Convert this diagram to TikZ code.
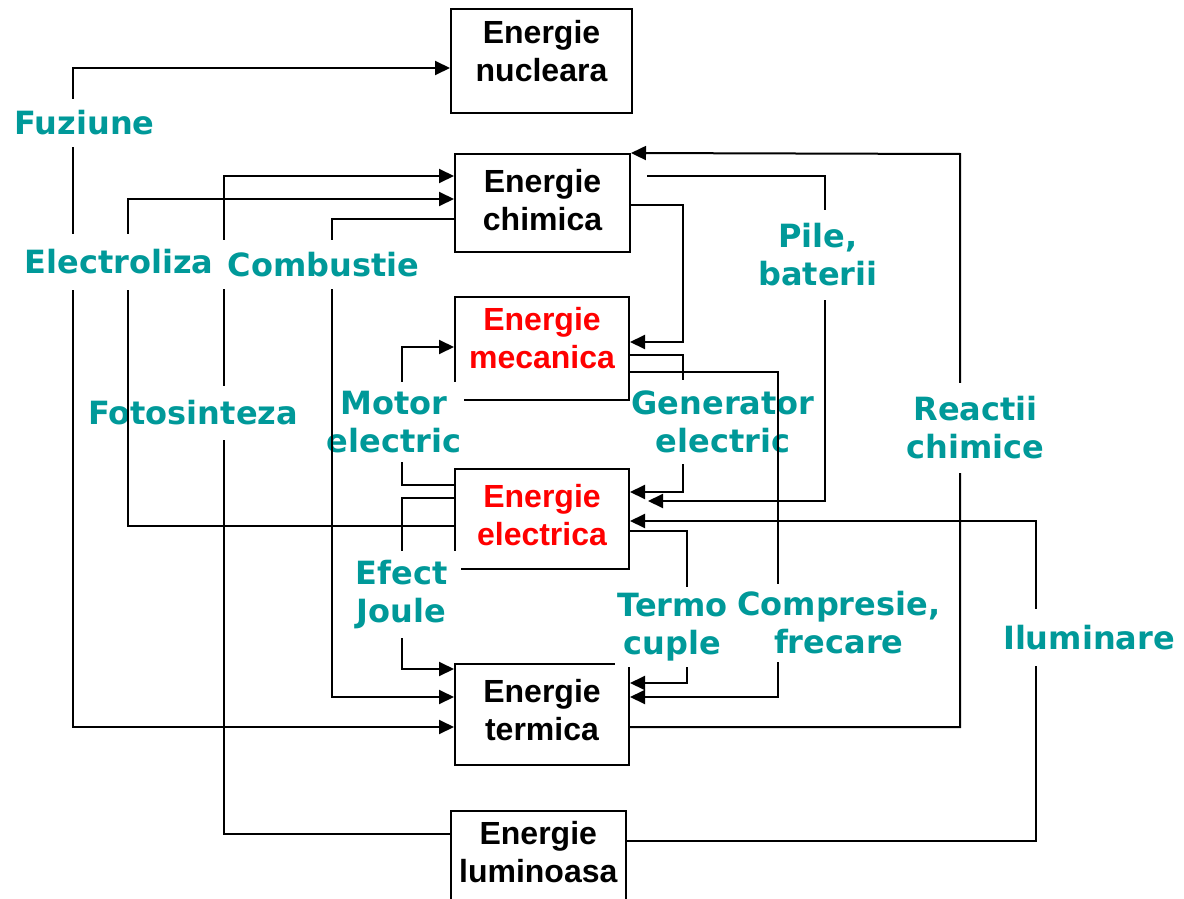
\documentclass[tikz,border=0pt]{standalone}
\usepackage{fontspec}
\usetikzlibrary{positioning, arrows.meta}
\newfontfamily\boxfont{Liberation Sans}
\newfontfamily\procfont{DejaVu Sans}
\definecolor{procteal}{HTML}{009999}
\definecolor{enred}{HTML}{FF0000}

\begin{document}
\begin{tikzpicture}[x=0.5pt, y=-0.5pt, >={Triangle[length=7.5pt, width=7pt]},
    ebox/.style={draw, line width=1pt, inner sep=0pt},
    etext/.style={font=\boxfont\bfseries\fontsize{16}{19}\selectfont, align=center, inner sep=0pt},
    proc/.style={font=\procfont\bfseries\fontsize{16}{19}\selectfont, text=procteal, align=center, fill=white, inner xsep=1pt},
    conn/.style={draw, line width=1pt}]
  \useasboundingbox (0,0) rectangle (1184,899);
  \clip (0,0) rectangle (1184,899);

  % boxes
  \node[ebox, minimum width=90.5pt, minimum height=52pt] (nuc) at (541.5,61.5) {};
  \node[ebox, minimum width=87.5pt, minimum height=49pt] (chim) at (542.5,203) {};
  \node[ebox, minimum width=87pt, minimum height=51.25pt] (mec) at (542,348.25) {};
  \node[ebox, minimum width=87pt, minimum height=50pt] (elec) at (542,519) {};
  \node[ebox, minimum width=87pt, minimum height=50.5pt] (term) at (542,714.5) {};
  \node[ebox, minimum width=87.25pt, minimum height=50.5pt] (lum) at (538.25,861) {};
  \node[etext, below=5.6pt of nuc.north] (nuc-t) {Energie\\nucleara};
  \node[etext, below=8.1pt of chim.north] (chim-t) {Energie\\chimica};
  \node[etext, text=enred, below=5.5pt of mec.north] (mec-t) {Energie\\mecanica};
  \node[etext, text=enred, below=8pt of elec.north] (elec-t) {Energie\\electrica};
  \node[etext, below=8pt of term.north] (term-t) {Energie\\termica};
  \node[etext, below=5.6pt of lum.north] (lum-t) {Energie\\luminoasa};

  \coordinate (pile-s) at (647,176);
  \coordinate (pile-e) at (648,501);

  % connectors under all labels
  \draw[conn, <->] (nuc.west |- 0,68) -| (73,727) -- (term.west |- 0,727);
  \draw[conn, ->] (lum.west |- 0,834) -| (224,176) -- (chim.west |- 0,176);
  \draw[conn, ->] (elec.west |- 0,485) -| (402,347) -- (mec.west |- 0,347);
  \draw[conn, ->] (elec.west |- 0,498) -| (402,669) -- (term.west |- 0,669);
  \draw[conn, ->] (chim.east |- 0,205) -| (683,342) -- (mec.east |- 0,342);
  \draw[conn, ->] (mec.east |- 0,355) -| (683,492) -- (elec.east |- 0,492);
  \draw[conn, ->] (pile-s) -| (825,501) -- (pile-e);
  \draw[conn, ->] (term.east |- 0,727) -| (960,154) -- (chim.north east);
  \draw[conn, ->] (elec.east |- 0,531) -| (687,683) -- (term.east |- 0,683);
  \draw[conn, ->] (lum.east |- 0,841) -| (1036,521) -- (elec.east |- 0,521);

  \node[proc, inner ysep=7.5pt] (foto) at (193,413) {Fotosinteza};
  \node[proc, inner xsep=1.5pt, inner ysep=4.5pt] (motor) at (394,422) {Motor\\electric};
  \node[proc, inner xsep=0pt, inner ysep=5.5pt] (gen) at (723,422) {Generator\\electric};

  % these run over the labels above
  \draw[conn, ->] (elec.west |- 0,526) -| (128,199) -- (chim.west |- 0,199);
  \draw[conn, ->] (chim.west |- 0,219) -| (332,697) -- (term.west |- 0,697);
  \draw[conn, ->] (mec.east |- 0,372) -| (778,697) -- (term.east |- 0,697);

  \node[proc, inner ysep=6pt] (fuz) at (84.5,123) {Fuziune};
  \node[proc, inner ysep=8pt] (elz) at (119,262) {Electroliza};
  \node[proc, inner xsep=4pt, inner ysep=6pt] (comb) at (323.7,264.7) {Combustie};
  \node[proc, inner ysep=7pt] (pile) at (818,255) {Pile,\\baterii};
  \node[proc, inner ysep=7pt] (react) at (975.5,428) {Reactii\\chimice};
  \node[proc, inner xsep=7pt, inner ysep=4.5pt] (joule) at (401.5,594.5) {Efect\\Joule};
  \node[proc, inner ysep=3pt] (termo) at (672.6,627) {Termo\\cuple};
  \node[proc, inner ysep=4pt] (compr) at (838.8,623) {Compresie,\\frecare};
  \node[proc, inner ysep=8pt] (ilum) at (1089,637.3) {Iluminare};
\end{tikzpicture}
\end{document}
